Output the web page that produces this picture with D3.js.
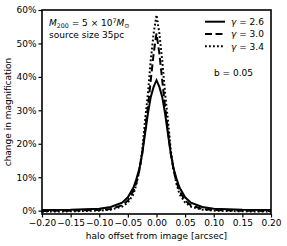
<!DOCTYPE html>
<html><head><meta charset="utf-8">
<script src="https://cdn.jsdelivr.net/npm/d3@7"></script>
<style>
html,body{margin:0;padding:0;background:#fff;}
svg{display:block;font-family:"DejaVu Sans",sans-serif;}
</style></head><body>
<svg id="c" width="287" height="246"></svg>
<script>
const offsets = [-0.20,-0.15,-0.10,-0.08,-0.06,-0.05,-0.04,-0.035,-0.03,-0.025,-0.02,-0.015,-0.01,-0.005,0,
                 0.005,0.01,0.015,0.02,0.025,0.03,0.035,0.04,0.05,0.06,0.08,0.10,0.15,0.20];
const gamma26 = [0.2,0.3,0.6,1.1,2.4,4.0,7.0,9.5,12.5,17,23,29,34,37,39,
                 37,34,29,23,17,12.5,9.5,7.0,4.0,2.4,1.1,0.6,0.3,0.2];
const gamma30 = [-0.1,0.0,0.2,0.5,1.6,3.0,6.0,8.5,12,17,24,31,39,47,53,
                 47,39,31,24,17,12,8.5,6.0,3.0,1.6,0.5,0.2,0.0,-0.1];
const gamma34 = [-0.3,-0.2,0.0,0.3,1.2,2.4,5.0,8.0,12,18,27,35,45,53,58.5,
                 53,45,35,27,18,12,8.0,5.0,2.4,1.2,0.3,0.0,-0.2,-0.3];
const seriesNames = ["\u03b3 = 2.6","\u03b3 = 3.0","\u03b3 = 3.4"];
const xTicks = [-0.20,-0.15,-0.10,-0.05,0.00,0.05,0.10,0.15,0.20];
const yTicks = [0,10,20,30,40,50,60];

const svg = d3.select("#c");
const L=42, R=271, T=10, B=214;
const x = d3.scaleLinear().domain([-0.2,0.2]).range([L,R]);
const y = d3.scaleLinear().domain([-1,60]).range([B,T]);
const FS = 9;

const styles = [
  {dash:null},
  {dash:"7,3.5"},
  {dash:"1.8,2.2"}
];
const all=[gamma26,gamma30,gamma34];
const line = d3.line().x(d=>x(d[0])).y(d=>y(d[1]));
const g = svg.append("g");
g.append("defs").append("clipPath").attr("id","cp").append("rect")
  .attr("x",L).attr("y",T).attr("width",R-L).attr("height",B-T);
all.forEach((s,i)=>{
  g.append("path").attr("clip-path","url(#cp)")
   .attr("d",line(offsets.map((o,k)=>[o,s[k]])))
   .attr("fill","none").attr("stroke","#000").attr("stroke-width",2)
   .attr("stroke-dasharray",styles[i].dash);
});

const fmtX = d=> (d<0?"\u2212":"")+Math.abs(d).toFixed(2);
const xa = svg.append("g").attr("transform",`translate(0,${B})`)
  .call(d3.axisBottom(x).tickValues(xTicks).tickFormat(fmtX).tickSize(3.5).tickPadding(2));
const ya = svg.append("g").attr("transform",`translate(${L},0)`)
  .call(d3.axisLeft(y).tickValues(yTicks).tickFormat(d=>d+"%").tickSize(3.5).tickPadding(2));
[xa,ya].forEach(a=>{
  a.select(".domain").remove();
  a.selectAll("text").attr("font-size",FS).attr("fill","#000").attr("font-family","DejaVu Sans");
  a.selectAll("line").attr("stroke","#000").attr("stroke-width",1.2);
});
svg.append("rect").attr("x",L).attr("y",T).attr("width",R-L).attr("height",B-T)
  .attr("fill","none").attr("stroke","#000").attr("stroke-width",1.6);

svg.append("text").attr("x",(L+R)/2).attr("y",239).attr("text-anchor","middle")
  .attr("font-size",FS).text("halo offset from image [arcsec]");
svg.append("text").attr("transform",`translate(11,${(T+B)/2}) rotate(-90)`)
  .attr("text-anchor","middle").attr("font-size",FS).text("change in magnification");

const t1 = svg.append("text").attr("x",49).attr("y",26).attr("font-size",FS);
t1.append("tspan").attr("font-style","italic").text("M");
t1.append("tspan").attr("font-size",6.3).attr("dy",2).text("200");
t1.append("tspan").attr("dy",-2).text(" = 5 \u00d7 10");
t1.append("tspan").attr("font-size",6.3).attr("dy",-3.5).text("7");
t1.append("tspan").attr("dy",3.5).attr("font-style","italic").text("M");
t1.append("tspan").attr("font-size",6.3).attr("dy",2).text("\u2299");
svg.append("text").attr("x",49).attr("y",38).attr("font-size",FS).text("source size 35pc");

const legY=[21.7,34,46.3];
seriesNames.forEach((n,i)=>{
  svg.append("line").attr("x1",205).attr("x2",225).attr("y1",legY[i]).attr("y2",legY[i])
    .attr("stroke","#000").attr("stroke-width",2).attr("stroke-dasharray",styles[i].dash);
  const t = svg.append("text").attr("x",231).attr("y",legY[i]+3.2).attr("font-size",FS);
  t.append("tspan").attr("font-style","italic").text("\u03b3");
  t.append("tspan").text(n.slice(1));
});
svg.append("text").attr("x",214).attr("y",76).attr("font-size",FS).text("b = 0.05");
</script>
</body></html>
